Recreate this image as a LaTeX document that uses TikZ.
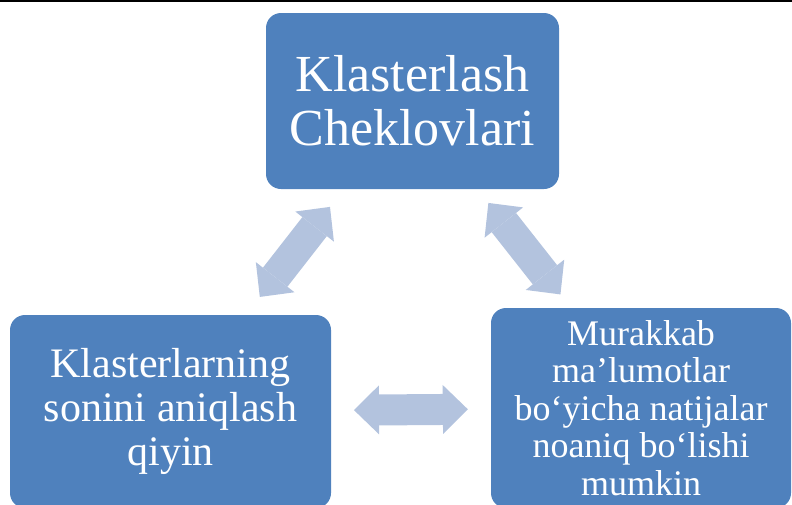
\documentclass[tikz,border=0pt]{standalone}
\usepackage{fontspec}
\setmainfont{Liberation Serif}
\usepackage{tikz}
\usetikzlibrary{arrows.meta, calc, positioning}
\definecolor{boxblue}{RGB}{79,129,189}
\definecolor{arrowblue}{RGB}{179,195,222}
\tikzstyle{box} = [rectangle, rounded corners = 15pt, inner sep = 0pt, text centered,
align = center, fill = boxblue, text = white]
\tikzstyle{link} = [line width = 31pt, draw = arrowblue,
{Triangle[length = 25pt, width = 49pt, line width = 0pt]}-{Triangle[length = 25pt, width = 49pt, line width = 0pt]}]

\begin{document}
\begin{tikzpicture}[x = 1pt, y = -1pt]

    \useasboundingbox (0,0) rectangle (792,504);
    \clip (0,0) rectangle (792,504);
    \draw[line width = 2pt] (0,1) -- (792,1);

    \node (cheklov) [box, minimum width = 293pt, minimum height = 176pt, font = \fontsize{52}{54}\selectfont] at (412.5,101) {Klasterlash \\ Cheklovlari};
    \node (klasternum) [box, minimum width = 321pt, minimum height = 193pt, font = \fontsize{42}{44}\selectfont] at (170.5,411.5) {Klasterlarning \\ sonini aniqlash \\ qiyin};
    \node (murakkab) [box, minimum width = 300pt, minimum height = 200pt, font = \fontsize{36}{37.5}\selectfont] at (641,408) {Murakkab \\ ma’lumotlar \\ bo‘yicha natijalar \\ noaniq bo‘lishi \\ mumkin};

    \draw[link] ($(klasternum)!0.369!(cheklov)$) -- ($(klasternum)!0.659!(cheklov)$);
    \draw[link] ($(cheklov)!0.332!(murakkab)$) -- ($(cheklov)!0.63!(murakkab) + (4,0)$);
    \draw[link] ($(klasternum)!0.39!(murakkab)$) -- ($(klasternum)!0.632!(murakkab)$);

\end{tikzpicture}
\end{document}
